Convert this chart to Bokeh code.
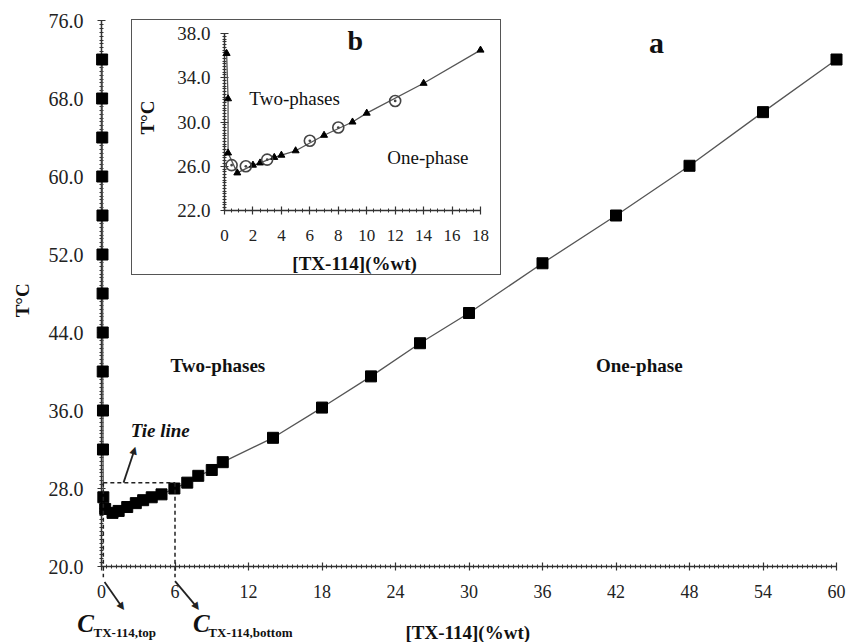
import numpy as np
from bokeh.plotting import figure
from bokeh.models import Range1d, FixedTicker, PrintfTickFormatter
from bokeh.core.properties import value
from bokeh.embed import file_html
from bokeh.resources import INLINE

# ---------------- data: main panel (a) ----------------
main_x = [0.05, 0.05, 0.06, 0.06, 0.08, 0.08, 0.09, 0.1, 0.1, 0.12, 0.12, 0.15,
          0.3, 0.9, 1.4, 2.1, 2.8, 3.4, 4.1, 4.9, 5.95, 7.0, 7.9, 9.0, 9.9,
          14.0, 18.0, 22.0, 26.0, 30.0, 36.0, 42.0, 48.0, 54.0, 60.0]
main_T = [72.0, 68.0, 64.0, 60.0, 56.0, 52.0, 48.0, 44.0, 40.0, 36.0, 32.0, 27.1,
          25.9, 25.5, 25.7, 26.1, 26.5, 26.8, 27.1, 27.4, 28.0, 28.6, 29.3, 29.9, 30.7,
          33.2, 36.3, 39.5, 42.9, 46.0, 51.1, 56.0, 61.1, 66.6, 72.0]
main_xticks = [0, 6, 12, 18, 24, 30, 36, 42, 48, 54, 60]
main_yticks = [20, 28, 36, 44, 52, 60, 68, 76]

# tie line
tie_T = 28.6
tie_x_top = 0.15
tie_x_bottom = 6.0
tie_low = 18.9

# arrows (start x, start y, end x, end y, head rotation)
arrow_x0 = [1.8, 0.25, 6.0]
arrow_y0 = [28.6, 18.4, 18.5]
arrow_x1 = [2.7, 1.7, 7.8]
arrow_y1 = [32.0, 15.8, 15.8]
arrow_angle = [-0.30, -2.53, -2.53]

# ---------------- data: inset (b) ----------------
inset_tri_x = [0.15, 0.25, 0.25, 0.9, 2.0, 2.5, 3.5, 4.0, 5.0, 7.0, 9.0, 10.0, 14.0, 18.0]
inset_tri_T = [36.2, 32.1, 27.2, 25.4, 26.1, 26.3, 26.8, 27.0, 27.4, 28.8, 30.0, 30.8, 33.5, 36.5]
inset_circ_x = [0.5, 1.5, 3.0, 6.0, 8.0, 12.0]
inset_circ_T = [26.1, 26.0, 26.6, 28.3, 29.5, 31.9]
inset_xticks = [0, 2, 4, 6, 8, 10, 12, 14, 16, 18]
inset_yticks = [22, 26, 30, 34, 38]

SERIF = "Liberation Serif"
AX = "#333333"


def style_axis(ax, major, minor, fmt=None, fs="18px", standoff=10):
    ax.ticker = FixedTicker(ticks=major, minor_ticks=minor)
    ax.axis_line_color = AX
    ax.axis_line_width = 1.5
    ax.major_tick_in = 4
    ax.major_tick_out = 4
    ax.minor_tick_in = 2
    ax.minor_tick_out = 2
    ax.major_tick_line_color = AX
    ax.minor_tick_line_color = AX
    ax.major_tick_line_width = 1.2
    ax.minor_tick_line_width = 1
    ax.major_label_text_font = SERIF
    ax.major_label_text_font_size = fs
    ax.major_label_text_color = "#222222"
    ax.major_label_standoff = standoff
    if fmt:
        ax.formatter = PrintfTickFormatter(format=fmt)


def lab(fig, x, y, text, size, bold=True, italic=False, align="center", angle=0.0):
    style = "bold italic" if (bold and italic) else ("bold" if bold else ("italic" if italic else "normal"))
    fig.text(x=[x], y=[y], text=[text], text_font=value(SERIF), text_font_size=value(size),
             text_font_style=style, text_align=align, text_baseline="middle",
             angle=angle, text_color="#111111", level="overlay")


# ---------------- main figure ----------------
p = figure(width=848, height=642, x_range=Range1d(0, 60), y_range=Range1d(20, 76),
           output_backend="svg", toolbar_location=None,
           min_border_left=101, min_border_right=12, min_border_top=20, min_border_bottom=76)
p.outline_line_color = None
p.xgrid.visible = False
p.ygrid.visible = False
p.background_fill_color = "white"
p.border_fill_color = "white"

style_axis(p.xaxis[0], main_xticks, [round(v, 2) for v in np.arange(0, 60.001, 0.4)], standoff=14)
style_axis(p.yaxis[0], main_yticks, [round(v, 2) for v in np.arange(20, 76.001, 0.4)], fmt="%.1f",
           fs="20px", standoff=14)

p.line(main_x, main_T, line_color="#555555", line_width=1.3, level="overlay")
p.scatter(main_x, main_T, marker="square", size=11, color="black", level="overlay")

p.segment(x0=[tie_x_top, tie_x_top, tie_x_bottom], y0=[tie_T, tie_T, tie_T],
          x1=[tie_x_bottom, tie_x_top, tie_x_bottom], y1=[tie_T, tie_low, tie_low],
          line_color="#222222", line_width=1.5, line_dash="4 3", level="overlay")

p.segment(x0=arrow_x0, y0=arrow_y0, x1=arrow_x1, y1=arrow_y1,
          line_color="#222222", line_width=1.8, level="overlay")
# arrow heads as rotated triangle characters (text glyphs are drawn outside the frame too)
p.text(x=arrow_x1, y=arrow_y1, text=["▲"] * len(arrow_x1), angle=arrow_angle,
       text_font=value("DejaVu Sans"), text_font_size=value("10px"),
       text_align="center", text_baseline="middle", text_color="#222222", level="overlay")

lab(p, 45.3, 73.7, "a", "30px")
lab(p, 9.5, 40.6, "Two-phases", "19px")
lab(p, 43.9, 40.6, "One-phase", "19px")
lab(p, 4.8, 33.9, "Tie line", "19px", italic=True)
lab(p, 29.9, 13.2, "[TX-114](%wt)", "19px")
lab(p, -6.44, 47.3, "T°C", "19px", angle=np.pi / 2)
lab(p, -1.3, 14.15, "C", "25px", italic=True)
lab(p, -0.65, 13.2, "TX-114,top", "13px", align="left")
lab(p, 8.15, 14.15, "C", "25px", italic=True)
lab(p, 8.72, 13.2, "TX-114,bottom", "13px", align="left")

# ---------------- inset figure ----------------
pi = figure(width=370, height=256, x_range=Range1d(0, 18), y_range=Range1d(22, 38),
            output_backend="svg", toolbar_location=None,
            min_border_left=92, min_border_right=22, min_border_top=13, min_border_bottom=66,
            styles={"position": "absolute", "left": "131px", "top": "19px",
                    "border": "1px solid #555555", "z-index": "10"})
pi.outline_line_color = None
pi.xgrid.visible = False
pi.ygrid.visible = False
pi.background_fill_color = "white"
pi.border_fill_color = "white"

style_axis(pi.xaxis[0], inset_xticks, [round(v, 2) for v in np.arange(0, 18.001, 0.5)],
           fs="17px", standoff=15)
style_axis(pi.yaxis[0], inset_yticks, [round(v, 2) for v in np.arange(22, 38.001, 0.25)],
           fmt="%.1f", fs="19px", standoff=10)

pi.line(inset_tri_x, inset_tri_T, line_color="#555555", line_width=1.3, level="overlay")
pi.scatter(inset_tri_x, inset_tri_T, marker="triangle", size=7, color="black", level="overlay")
pi.scatter(inset_circ_x, inset_circ_T, marker="circle_dot", size=11, fill_color=None,
           line_color="#444444", line_width=1.6, level="overlay")

lab(pi, 9.2, 37.4, "b", "28px")
lab(pi, 4.93, 32.1, "Two-phases", "19px", bold=False)
lab(pi, 14.3, 26.8, "One-phase", "19px", bold=False)
lab(pi, 9.15, 17.2, "[TX-114](%wt)", "19px")
lab(pi, -5.39, 30.4, "T°C", "19px", angle=np.pi / 2)

open("out.html", "w").write(file_html([p, pi], INLINE))
